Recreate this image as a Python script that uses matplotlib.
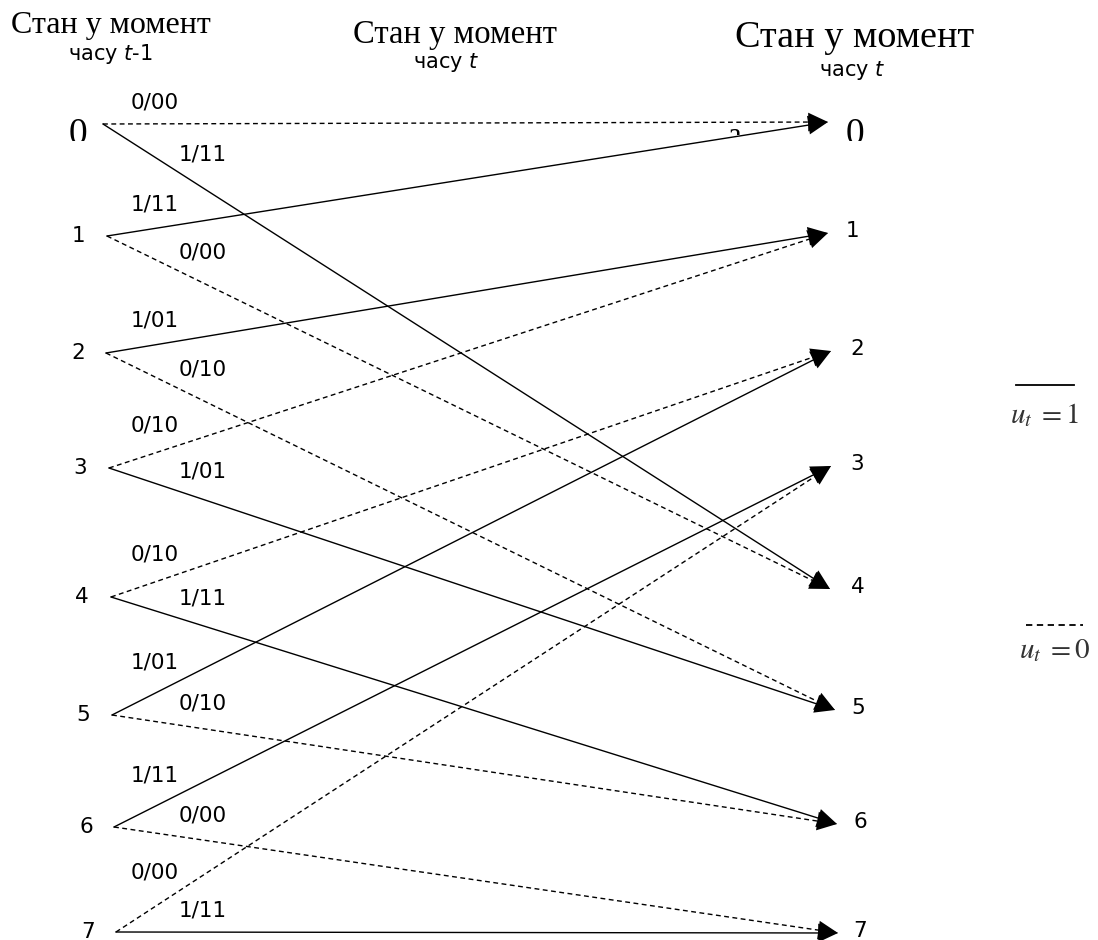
import matplotlib
matplotlib.use('Agg')
import matplotlib.pyplot as plt
from matplotlib.transforms import Bbox, TransformedBbox

plt.rcParams['mathtext.fontset'] = 'dejavusans'

# trellis data: from state -> to state, input bit u, output bits
states = [0, 1, 2, 3, 4, 5, 6, 7]
edge_src = [0, 0, 1, 1, 2, 2, 3, 3, 4, 4, 5, 5, 6, 6, 7, 7]
edge_dst = [0, 4, 0, 4, 1, 5, 1, 5, 2, 6, 2, 6, 3, 7, 3, 7]
edge_u = [0, 1, 1, 0, 1, 0, 0, 1, 0, 1, 1, 0, 1, 0, 0, 1]
edge_out = ['00', '11', '11', '00', '01', '10', '10', '01',
            '10', '11', '01', '10', '11', '00', '00', '11']

header = 'Стан у момент'
sub_left = r'часу $t$-1'
sub_right = r'часу $t$'

# layout (pixels)
left_x = [103, 107, 106, 109, 111, 112, 114, 116]
left_y = [124, 236, 353, 468, 597, 715, 827, 932]
right_x = [828, 828, 831, 831, 830, 835, 837, 838]
right_y = [122, 233, 351, 466, 589, 710, 824, 933]
left_lab_x = [78, 78, 78, 80, 82, 83, 86, 88]
right_lab_x = [855, 853, 857, 857, 858, 858, 860, 860]

serif = 'Liberation Serif'
sans = 'DejaVu Sans'

fig = plt.figure(figsize=(10.98, 9.4), dpi=100)
ax = fig.add_axes([0, 0, 1, 1])
ax.set_xlim(0, 1098)
ax.set_ylim(940, 0)
ax.axis('off')

dash = (0, (3.5, 2.5))

for s, d, u, o in zip(edge_src, edge_dst, edge_u, edge_out):
    x0, y0 = left_x[s], left_y[s]
    x1, y1 = right_x[d], right_y[d]
    slope = (y1 - y0) / (x1 - x0)
    ls = '-' if u == 1 else dash
    ax.plot([x0, x1 - 10], [y0, y1 - slope * 10],
            color='black', lw=1.0, linestyle=ls)
    # solid head at the end
    ax.annotate('', xy=(x1, y1), xytext=(x1 - 25, y1 - slope * 25),
                arrowprops=dict(arrowstyle='-|>,head_length=0.95,head_width=0.45',
                                mutation_scale=15, color='black', lw=0,
                                shrinkA=0, shrinkB=0))
    other = [dd for ss, dd in zip(edge_src, edge_dst) if ss == s]
    if d == min(other):
        lx = 155
        ly = y0 + slope * (175 - x0) - 21
    else:
        lx = 203
        ly = y0 + slope * (185 - x0) - 22
    ax.text(lx, ly, '%d/%s' % (u, o), fontsize=15.5, family=sans,
            ha='center', va='center')

# state numbers (the serif zeros are cut off at the bottom)
clip0 = TransformedBbox(Bbox([[0, 0], [1098, 141]]), ax.transData)
clip_a = TransformedBbox(Bbox([[0, 0], [1098, 135]]), ax.transData)
for i in states:
    if i == 0:
        for xx in (left_lab_x[i], right_lab_x[i]):
            t = ax.text(xx, 144, '0', fontsize=27, family=serif,
                        ha='center', va='baseline')
            t.set_clip_box(clip0)
            t.set_clip_on(True)
    else:
        ax.text(left_lab_x[i], left_y[i], str(i), fontsize=15.5, family=sans,
                ha='center', va='center')
        ax.text(right_lab_x[i], right_y[i] - 2, str(i), fontsize=15.5,
                family=sans, ha='center', va='center')

art = ax.text(735, 144, 'a', fontsize=22, family=serif, ha='center',
              va='baseline')
art.set_clip_box(clip_a)
art.set_clip_on(True)

# headers
ax.text(111, 25, header, fontsize=23, family=serif, ha='center', va='center')
ax.text(110, 54, sub_left, fontsize=15, family=sans, ha='center', va='center')
ax.text(455, 35, header, fontsize=23.5, family=serif, ha='center', va='center')
ax.text(446, 62, sub_right, fontsize=15, family=sans, ha='center', va='center')
ax.text(855, 38, header, fontsize=27.5, family=serif, ha='center', va='center')
ax.text(852, 71, sub_right, fontsize=15, family=sans, ha='center', va='center')

# legend
ax.plot([1016, 1074], [385, 385], color='black', lw=1.3)
ax.text(1045, 415, r'$u_t\;=1$', fontsize=21, math_fontfamily='stix',
        ha='center', va='center', color='#333333')
ax.plot([1026, 1083], [625, 625], color='black', lw=1.3, linestyle=dash)
ax.text(1055, 650, r'$u_t\;=0$', fontsize=21, math_fontfamily='stix',
        ha='center', va='center', color='#333333')

plt.savefig('out.png', dpi=100)
